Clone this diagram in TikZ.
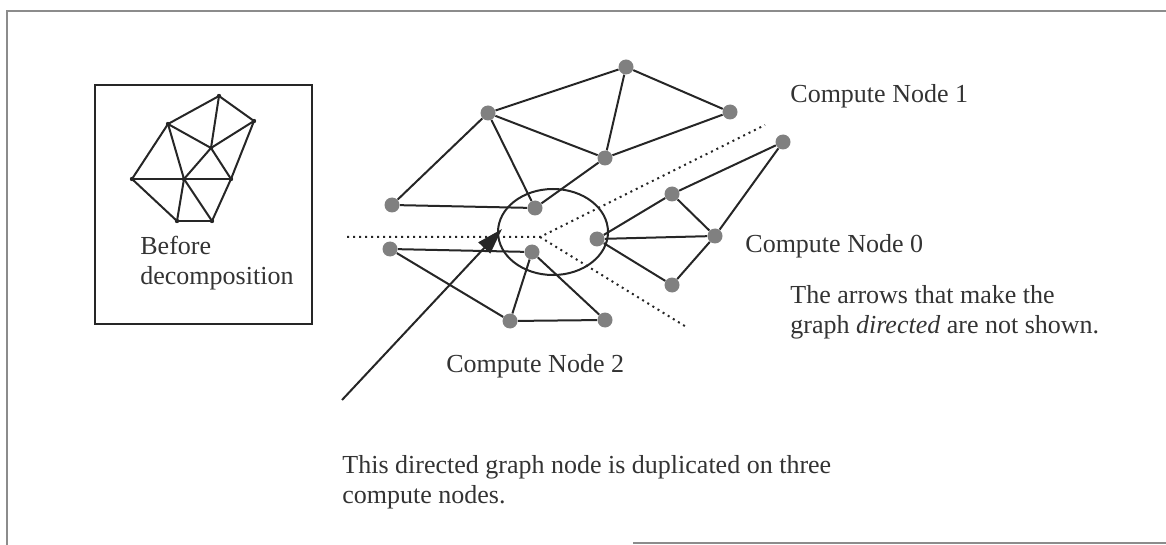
\documentclass[tikz,border=0pt]{standalone}
\usepackage{fontspec}
\setmainfont{Liberation Serif}
\usetikzlibrary{arrows.meta}
\tikzset{every node/.style={font=\fontsize{13}{15}\selectfont, text=textcol}}
\colorlet{textcol}{black!80}
\colorlet{linecol}{black!85}
\colorlet{dotcol}{black!50}
\colorlet{framecol}{black!45}

\begin{document}
\begin{tikzpicture}[x=0.5pt, y=-0.5pt, >=Stealth,
    vertex/.style={circle, fill=dotcol, inner sep=0pt, minimum size=7.5pt},
    tinyvertex/.style={circle, fill=linecol, inner sep=0pt, minimum size=2.2pt},
    edge/.style={line width=1pt, linecol},
    label/.style={anchor=west, align=left, inner sep=0pt}]

  \useasboundingbox (0,0) rectangle (1166,545);

  % Outer frame.
  \draw[framecol, line width=0.8pt] (1166,11) -- (7,11) -- (7,545);
  \draw[framecol, line width=0.8pt] (633,543) -- (1166,543);

  % Box with the undivided graph.
  \draw[edge] (95,85) rectangle (312,324);
  \node[tinyvertex] (s1) at (219,96) {};
  \node[tinyvertex] (s2) at (168,124) {};
  \node[tinyvertex] (s3) at (254,121) {};
  \node[tinyvertex] (s4) at (211,148) {};
  \node[tinyvertex] (s5) at (132,179) {};
  \node[tinyvertex] (s6) at (184,179) {};
  \node[tinyvertex] (s7) at (231,179) {};
  \node[tinyvertex] (s8) at (177,221) {};
  \node[tinyvertex] (s9) at (212,221) {};
  \foreach \a/\b in {s1/s2, s1/s3, s1/s4, s2/s4, s3/s4, s3/s7, s4/s6, s4/s7,
                     s2/s5, s2/s6, s5/s6, s6/s7, s5/s8, s6/s8, s6/s9, s7/s9, s8/s9} {
    \draw[edge] (\a.center) -- (\b.center);
  }
  \node[label] (before) at (140,263) {Before\\decomposition};

  % Cuts between the compute nodes.
  \coordinate (cut) at (540,237);
  \coordinate (cutW) at (347,237);
  \coordinate (cutNE) at (765,125);
  \coordinate (cutSE) at (688,328);
  \draw[linecol, line width=1pt, dotted] (cutW) -- (cut) -- (cutNE);
  \draw[linecol, line width=1pt, dotted] (cut) -- (cutSE);

  % Compute Node 1 part.
  \node[vertex] (p1a) at (488,113) {};
  \node[vertex] (p1b) at (626,67) {};
  \node[vertex] (p1c) at (730,112) {};
  \node[vertex] (p1d) at (605,158) {};
  \node[vertex] (p1e) at (392,205) {};
  \node[vertex] (p1f) at (535,208) {};
  \foreach \a/\b in {p1a/p1b, p1b/p1c, p1b/p1d, p1a/p1d, p1d/p1c,
                     p1a/p1e, p1a/p1f, p1e/p1f, p1f/p1d} {
    \draw[edge] (\a) -- (\b);
  }

  % Compute Node 0 part.
  \node[vertex] (p0a) at (597,239) {};
  \node[vertex] (p0b) at (672,194) {};
  \node[vertex] (p0c) at (715,236) {};
  \node[vertex] (p0d) at (672,285) {};
  \node[vertex] (p0e) at (783,142) {};
  \foreach \a/\b in {p0a/p0b, p0a/p0c, p0a/p0d, p0b/p0c, p0b/p0e, p0e/p0c, p0c/p0d} {
    \draw[edge] (\a) -- (\b);
  }

  % Compute Node 2 part.
  \node[vertex] (p2a) at (390,249) {};
  \node[vertex] (p2b) at (532,252) {};
  \node[vertex] (p2c) at (510,321) {};
  \node[vertex] (p2d) at (605,320) {};
  \foreach \a/\b in {p2a/p2b, p2a/p2c, p2b/p2c, p2b/p2d, p2c/p2d} {
    \draw[edge] (\a) -- (\b);
  }

  % Ring round the shared node.
  \draw[edge] (553,232) ellipse [x radius=27.5pt, y radius=21.5pt];

  % Pointer to the duplicated node.
  \coordinate (tail) at (342,400);
  \coordinate (tip) at (502,229);
  \draw[edge, -{Triangle[length=13pt, width=8pt]}] (tail) -- (tip);

  % Labels.
  \node[label] (cn1) at (790,96) {Compute Node 1};
  \node[label] (cn0) at (745,246) {Compute Node 0};
  \node[label] (cn2) at (446,366) {Compute Node 2};
  \node[label] (note) at (790,312) {The arrows that make the\\graph \textit{directed} are not shown.};
  \node[label] (dup) at (342,482) {This directed graph node is duplicated on three\\compute nodes.};

\end{tikzpicture}
\end{document}
